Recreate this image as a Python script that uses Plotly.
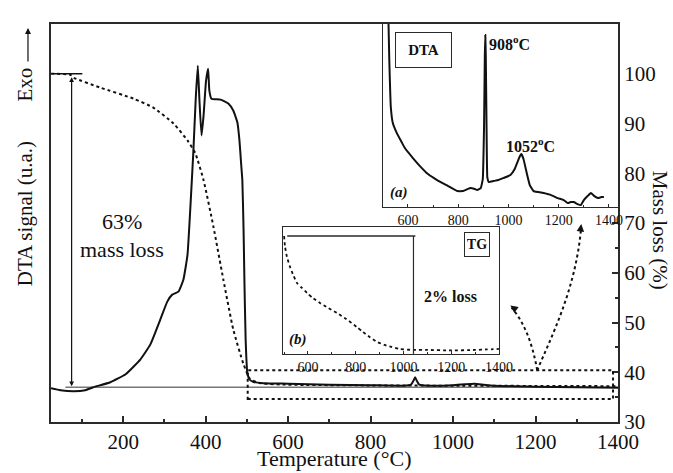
import plotly.graph_objects as go

# ---------------- data ----------------
# Main DTA curve (arbitrary units, drawn on the left axis)
dta_T = [25, 48, 80, 108, 128, 169, 206, 242, 266, 290, 307, 319, 334, 346, 356, 363, 370, 376,
         381, 385, 390, 395, 401, 406, 409, 414, 436, 455, 467, 477, 482, 486, 489, 492, 494, 497,
         501, 506, 515, 540, 600, 700, 800, 880, 898, 904, 908, 912, 918, 940, 1000, 1030, 1052,
         1075, 1100, 1200, 1300, 1400]
dta_V = [36.8, 36.4, 36.2, 36.4, 37.0, 38.0, 39.6, 42.6, 45.6, 50.6, 54.2, 55.6, 56.2, 58.6, 63.6,
         73.2, 84.0, 95.0, 101.6, 94.6, 87.6, 91.6, 98.6, 101.0, 96.6, 95.0, 94.8, 94.0, 92.6, 90.2,
         86.6, 82.0, 78.6, 68.6, 58.6, 46.6, 40.0, 38.6, 38.1, 37.8, 37.7, 37.5, 37.4, 37.3, 37.5,
         38.3, 39.0, 38.3, 37.5, 37.3, 37.4, 37.6, 37.7, 37.5, 37.3, 37.1, 37.0, 36.9]

# Main TG curve (mass, %)
tg_T = [25, 72, 80, 145, 225, 273, 322, 356, 375, 395, 419, 443, 467, 492, 508, 533, 600, 800,
        1000, 1200, 1400]
tg_V = [100, 99.8, 99.2, 97.2, 95.0, 93.2, 90.0, 86.6, 84.0, 78.6, 69.2, 58.6, 48.6, 41.6, 38.6,
        37.8, 37.5, 37.35, 37.3, 37.25, 37.2]

# Inset (a): DTA high-temperature zoom (arbitrary units)
dtaA_T = [522, 526, 532, 540, 556, 575, 588, 620, 648, 680, 716, 760, 796, 820, 848, 866, 876,
          890, 898, 903, 906, 908, 910, 913, 916, 922, 940, 960, 980, 1008, 1025, 1036, 1046, 1052,
          1060, 1072, 1085, 1100, 1120, 1140, 1170, 1196, 1220, 1236, 1248, 1260, 1275, 1288, 1300,
          1315, 1328, 1342, 1356, 1370, 1380]
dtaA_V = [194, 147, 100, 84, 74, 65, 59, 49, 41, 33, 27, 21, 16, 16, 19, 18, 17, 19, 28, 80, 150,
          172, 150, 80, 30, 25, 26, 27, 29, 32, 38, 45, 51, 53, 48, 35, 22, 16, 15, 14, 12, 9, 7, 4,
          5, 5, 3, 2, 7, 11, 14, 11, 9, 10, 10]

# Inset (b): TG high-temperature zoom (arbitrary units)
tgB_T = [500, 504, 512, 525, 540, 554, 575, 596, 620, 650, 685, 721, 760, 804, 830, 858, 890, 921,
         950, 983, 1042, 1100, 1200, 1300, 1350, 1400]
tgB_V = [118, 107, 97, 87, 78, 71, 66, 61, 56, 51, 46, 41, 35, 27, 22, 17, 12, 9, 7, 5, 4, 4, 3.5,
         4, 4.5, 5]

main_x_ticks = [200, 400, 600, 800, 1000, 1200, 1400]
mass_ticks = [30, 40, 50, 60, 70, 80, 90, 100]
inset_x_ticks = [600, 800, 1000, 1200, 1400]

FONT = "Liberation Serif"
INK = "#111111"
FRAME = "#2a2a2a"

fig = go.Figure()

# main curves
fig.add_trace(go.Scatter(x=tg_T, y=tg_V, mode="lines", yaxis="y2", xaxis="x",
                         line=dict(color=INK, width=2, dash="dot", shape="spline", smoothing=0.5),
                         hoverinfo="skip", showlegend=False))
fig.add_trace(go.Scatter(x=dta_T, y=dta_V, mode="lines", yaxis="y", xaxis="x",
                         line=dict(color=INK, width=2, shape="spline", smoothing=0.4),
                         hoverinfo="skip", showlegend=False))
# inset a
fig.add_trace(go.Scatter(x=dtaA_T, y=dtaA_V, mode="lines", xaxis="x2", yaxis="y3",
                         line=dict(color=INK, width=2, shape="spline", smoothing=0.3),
                         hoverinfo="skip", showlegend=False))
# inset b
fig.add_trace(go.Scatter(x=tgB_T, y=tgB_V, mode="lines", xaxis="x3", yaxis="y4",
                         line=dict(color=INK, width=1.8, dash="dot", shape="spline", smoothing=0.5),
                         hoverinfo="skip", showlegend=False))

axis_common = dict(showgrid=False, zeroline=False, showline=True, linecolor=FRAME)

fig.update_layout(
    width=673, height=473,
    margin=dict(l=51, r=55, t=24, b=51),
    paper_bgcolor="white", plot_bgcolor="white",
    font=dict(family=FONT, color=INK),
    xaxis=dict(**axis_common, range=[25, 1400], linewidth=2, mirror=True,
               tickvals=main_x_ticks, ticks="inside", ticklen=6, tickwidth=1.5, tickcolor=FRAME,
               minor=dict(ticks="inside", ticklen=3, tickwidth=1.5, dtick=100, tick0=0, tickcolor=FRAME),
               tickfont=dict(size=21, family=FONT, color=INK), anchor="y"),
    yaxis=dict(**axis_common, range=[30, 110], linewidth=2, showticklabels=False, ticks="",
               anchor="x"),
    yaxis2=dict(**axis_common, range=[30, 110], linewidth=2, overlaying="y", side="right",
                anchor="x", tickvals=mass_ticks, ticks="inside", ticklen=6, tickwidth=1.5,
                tickcolor=FRAME,
                minor=dict(ticks="inside", ticklen=3, tickwidth=1.5, dtick=10, tick0=35, tickcolor=FRAME),
                tickfont=dict(size=21, family=FONT, color=INK)),
    xaxis2=dict(**axis_common, domain=[0.586, 1.0], range=[502, 1436], anchor="y3", linewidth=1.2,
                mirror=True, tickvals=inset_x_ticks, ticks="inside", ticklen=3, tickwidth=1,
                tickcolor=FRAME,
                minor=dict(ticks="inside", ticklen=2, tickwidth=1, dtick=100, tick0=0, tickcolor=FRAME),
                tickfont=dict(size=14, family=FONT, color=INK)),
    yaxis3=dict(**axis_common, domain=[0.540, 1.0], range=[0, 183], anchor="x2", linewidth=1.2,
                mirror=True, showticklabels=False, ticks=""),
    xaxis3=dict(**axis_common, domain=[0.409, 0.790], range=[495, 1400], anchor="y4", linewidth=1.2,
                mirror=True, tickvals=inset_x_ticks, ticks="inside", ticklen=3, tickwidth=1,
                tickcolor=FRAME,
                minor=dict(ticks="inside", ticklen=2, tickwidth=1, dtick=100, tick0=0, tickcolor=FRAME),
                tickfont=dict(size=14, family=FONT, color=INK)),
    yaxis4=dict(**axis_common, domain=[0.171, 0.490], range=[0, 127], anchor="x3", linewidth=1.2,
                mirror=True, showticklabels=False, ticks=""),
)

shapes = []
# baseline (final mass level)
shapes.append(dict(type="line", xref="x", yref="y2", x0=60, x1=1400, y0=37, y1=37,
                   line=dict(color="#777777", width=1.5), layer="below"))
# short cap at 100 %
shapes.append(dict(type="line", xref="x", yref="y2", x0=31, x1=101, y0=100, y1=100,
                   line=dict(color=INK, width=1.5)))
# dotted zoom box
shapes.append(dict(type="rect", xref="x", yref="y2", x0=502, x1=1388, y0=34.6, y1=40.4,
                   line=dict(color=INK, width=2, dash="dot")))
# curved dotted pointers
shapes.append(dict(type="path", xref="x", yref="y2",
                   path="M 1204,40.4 Q 1187,48.6 1142,53",
                   line=dict(color=INK, width=2, dash="dot")))
shapes.append(dict(type="path", xref="x", yref="y2",
                   path="M 1204,40.4 C 1241,47.6 1296,56.6 1310,68.5",
                   line=dict(color=INK, width=2, dash="dot")))
# inset b reference lines
shapes.append(dict(type="line", xref="x3", yref="y4", x0=513, x1=1050, y0=118, y1=118,
                   line=dict(color=FRAME, width=1.5)))
shapes.append(dict(type="line", xref="x3", yref="y4", x0=1042, x1=1042, y0=0, y1=118,
                   line=dict(color=FRAME, width=1.2)))
fig.update_layout(shapes=shapes)

ann = []
# axis titles
ann.append(dict(text="Temperature (°C)", xref="paper", yref="paper", x=0.499, y=-0.092,
                xanchor="center", yanchor="middle", showarrow=False, font=dict(size=22)))
ann.append(dict(text="Mass loss (%)", xref="paper", yref="paper", x=1.073, y=0.482, textangle=90,
                xanchor="center", yanchor="middle", showarrow=False, font=dict(size=21)))
ann.append(dict(text="DTA signal (u.a.)", xref="paper", yref="paper", x=-0.047, y=0.523,
                textangle=-90, xanchor="center", yanchor="middle", showarrow=False,
                font=dict(size=21)))
ann.append(dict(text="Exo", xref="paper", yref="paper", x=-0.045, y=0.849, textangle=-90,
                xanchor="center", yanchor="middle", showarrow=False, font=dict(size=21)))
ann.append(dict(text="", xref="paper", yref="paper", x=-0.0406, y=0.99, ax=0, ay=35,
                showarrow=True, arrowhead=2, arrowsize=1, arrowwidth=1.2, arrowcolor=INK))
# 63 % mass loss arrow and label
ann.append(dict(text="", xref="x", yref="y2", x=75, y=37.2, axref="x", ayref="y2", ax=75, ay=99.6,
                showarrow=True, arrowhead=2, arrowside="end+start", arrowsize=0.8,
                arrowwidth=1.2, arrowcolor=INK, standoff=0, startstandoff=0))
ann.append(dict(text="63%", xref="x", yref="y2", x=196, y=70.4, showarrow=False,
                font=dict(size=22)))
ann.append(dict(text="mass loss", xref="x", yref="y2", x=196, y=64.6, showarrow=False,
                font=dict(size=22)))
# arrow heads of the curved pointers
ann.append(dict(text="", xref="x", yref="y2", x=1139, y=53.4, ax=7, ay=5, showarrow=True,
                arrowhead=2, arrowsize=1, arrowwidth=1.5, arrowcolor=INK))
ann.append(dict(text="", xref="x", yref="y2", x=1311, y=69.8, ax=-1, ay=8, showarrow=True,
                arrowhead=2, arrowsize=1, arrowwidth=1.5, arrowcolor=INK))
# inset a labels
ann.append(dict(text="<b>DTA</b>", xref="x2", yref="y3", x=662, y=157, showarrow=False,
                font=dict(size=15), bordercolor=FRAME, borderwidth=1, borderpad=3,
                width=49, height=28))
ann.append(dict(text="<b>908<sup>o</sup>C</b>", xref="x2", yref="y3", x=914, y=164,
                xanchor="left", showarrow=False, font=dict(size=16)))
ann.append(dict(text="<b>1052<sup>o</sup>C</b>", xref="x2", yref="y3", x=1088, y=62,
                showarrow=False, font=dict(size=16)))
ann.append(dict(text="<b><i>(a)</i></b>", xref="x2", yref="y3", x=522, y=15, xanchor="left",
                showarrow=False, font=dict(size=15)))
# inset b labels
ann.append(dict(text="<b>TG</b>", xref="x3", yref="y4", x=1308, y=109, showarrow=False,
                font=dict(size=14), bordercolor=FRAME, borderwidth=1, borderpad=2,
                width=20, height=19))
ann.append(dict(text="<b>2% loss</b>", xref="x3", yref="y4", x=1199, y=57, showarrow=False,
                font=dict(size=16)))
ann.append(dict(text="<b><i>(b)</i></b>", xref="x3", yref="y4", x=512, y=14, xanchor="left",
                showarrow=False, font=dict(size=15)))
fig.update_layout(annotations=ann)

fig.write_html("out.html")
